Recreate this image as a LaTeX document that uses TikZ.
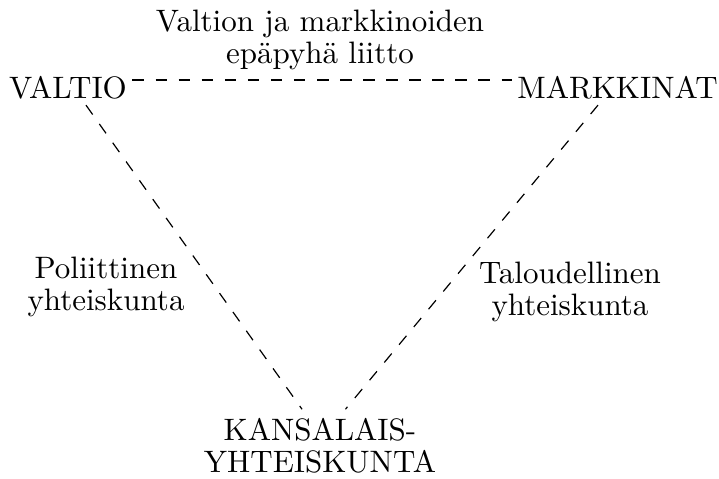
\documentclass[tikz,border=0pt]{standalone}
\begin{document}
\begin{tikzpicture}[x=0.3338pt,y=-0.3338pt,
  every node/.style={font=\fontsize{10.35}{10.7}\selectfont},
  lbl/.style={inner sep=0pt, align=center},
  corner/.style={inner sep=1.7pt},
  dline/.style={dash pattern=on 3.85pt off 3.85pt, line width=0.4pt}]
\useasboundingbox (0,0) rectangle (719,479);
\node[corner] (valtio) at (68,88) {VALTIO};
\node[corner] (markkinat) at (617.5,88) {MARKKINAT};
\node[lbl] (kansa) at (320,446) {KANSALAIS-\\YHTEISKUNTA};
\node[lbl] (top) at (320,40) {Valtion ja markkinoiden\\epäpyhä liitto};
\node[lbl] (left) at (106,286.5) {Poliittinen\\yhteiskunta};
\node[lbl] (right) at (570,291.5) {Taloudellinen\\yhteiskunta};
\draw[dline] ([yshift=2.7pt]valtio.east) -- ([yshift=2.7pt]markkinat.west);
\draw[dline] ([xshift=6pt]valtio.south) -- ([xshift=-6pt,yshift=2.9pt]kansa.north);
\draw[dline] ([xshift=-6.5pt]markkinat.south) -- ([xshift=8.5pt,yshift=2.9pt]kansa.north);
\end{tikzpicture}
\end{document}
